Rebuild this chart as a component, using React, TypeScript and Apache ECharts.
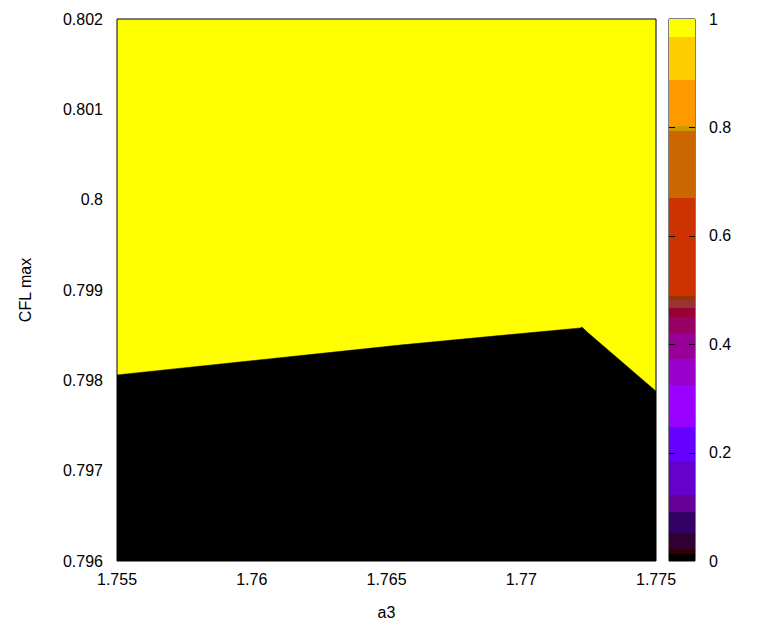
import React, { useEffect, useRef } from "react";
import * as echarts from "echarts";

// Boundary between the 0 (black) and 1 (yellow) regions
const boundaryA3 = [1.755, 1.7585, 1.762, 1.7655, 1.769, 1.7722, 1.77225, 1.7725, 1.775];
const boundaryCFL = [0.79806, 0.79817, 0.79828, 0.79839, 0.79849, 0.79858, 0.79859, 0.79852, 0.79788];

const xTicks = [1.755, 1.76, 1.765, 1.77, 1.775];
const yTicks = [0.796, 0.797, 0.798, 0.799, 0.8, 0.801, 0.802];
const cbTicks = [0.2, 0.4, 0.6, 0.8];

// Colour bar bands (palette steps)
const bandLow = [0, 0.0129, 0.0221, 0.0517, 0.0904, 0.1218, 0.1845, 0.2472, 0.3247, 0.3727, 0.4188, 0.4502, 0.4668, 0.4815, 0.4889, 0.6697, 0.7934, 0.8026, 0.8875, 0.9668];
const bandHigh = [0.0129, 0.0221, 0.0517, 0.0904, 0.1218, 0.1845, 0.2472, 0.3247, 0.3727, 0.4188, 0.4502, 0.4668, 0.4815, 0.4889, 0.6697, 0.7934, 0.8026, 0.8875, 0.9668, 1];
const bandColor = ["#000000", "#330000", "#330033", "#330066", "#660099", "#6600cc", "#6600ff", "#9900ff", "#9900cc", "#990099", "#990066", "#990033", "#993333", "#993300", "#cc3300", "#cc6600", "#cc9900", "#ff9900", "#ffcc00", "#ffff00"];

const FONT = "Liberation Sans, Arial, sans-serif";
const fmt = (v: number) => String(parseFloat(v.toFixed(3)));

export default function App() {
  const ref = useRef<HTMLDivElement>(null);
  useEffect(() => {
    if (!ref.current) return;
    const chart = echarts.init(ref.current, null, { renderer: "svg" });
    const lineData = boundaryA3.map((x, i) => [x, boundaryCFL[i]]);
    const bandData = bandLow.map((lo, i) => [0, lo, bandHigh[i], i]);
    const tickData = cbTicks.map((t) => [0, t]);
    chart.setOption({
      animation: false,
      backgroundColor: "#ffffff",
      textStyle: { fontFamily: FONT },
      grid: [
        { left: 117, top: 19, width: 539, height: 542, show: true, backgroundColor: "#ffff00", borderColor: "#000", borderWidth: 1, z: 0 },
        { left: 669, top: 19, width: 26, height: 542, show: true, backgroundColor: "transparent", borderColor: "#000", borderWidth: 1, z: 0 },
      ],
      xAxis: [
        {
          type: "value", gridIndex: 0, min: xTicks[0], max: xTicks[xTicks.length - 1], interval: 0.005,
          name: "a3", nameLocation: "middle", nameGap: 43,
          nameTextStyle: { fontSize: 16, color: "#000", fontFamily: FONT },
          axisLine: { show: false }, axisTick: { show: false }, splitLine: { show: false },
          axisLabel: { fontSize: 16, color: "#000", margin: 10, fontFamily: FONT, formatter: fmt },
        },
        { type: "value", gridIndex: 1, min: 0, max: 1, show: false },
      ],
      yAxis: [
        {
          type: "value", gridIndex: 0, min: yTicks[0], max: yTicks[yTicks.length - 1], interval: 0.001,
          name: "CFL max", nameLocation: "middle", nameGap: 84, nameRotate: 90,
          nameTextStyle: { fontSize: 16, color: "#000", fontFamily: FONT },
          axisLine: { show: false }, axisTick: { show: false }, splitLine: { show: false },
          axisLabel: { fontSize: 16, color: "#000", margin: 14, fontFamily: FONT, formatter: fmt },
        },
        {
          type: "value", gridIndex: 1, min: 0, max: 1, interval: 0.2, position: "right",
          axisLine: { show: false }, splitLine: { show: false }, axisTick: { show: false },
          axisLabel: { fontSize: 16, color: "#000", margin: 14, fontFamily: FONT, formatter: (v: number) => String(parseFloat(v.toFixed(1))) },
        },
      ],
      series: [
        {
          type: "line", xAxisIndex: 0, yAxisIndex: 0, data: lineData, symbol: "none",
          lineStyle: { color: "#000", width: 0.5 },
          areaStyle: { color: "#000", opacity: 1, origin: "start" },
          z: 2, silent: true,
        },
        {
          type: "custom", xAxisIndex: 1, yAxisIndex: 1, data: bandData, z: 1, silent: true,
          renderItem: (params: any, api: any) => {
            const lo = api.value(1);
            const hi = api.value(2);
            const idx = api.value(3);
            const p0 = api.coord([0, lo]);
            const p1 = api.coord([1, hi]);
            return {
              type: "rect",
              shape: { x: p0[0], y: p1[1], width: p1[0] - p0[0], height: p0[1] - p1[1] },
              style: { fill: bandColor[idx], stroke: null },
            };
          },
        },
        {
          type: "custom", xAxisIndex: 1, yAxisIndex: 1, data: tickData, z: 3, silent: true,
          renderItem: (params: any, api: any) => {
            const pl = api.coord([0, api.value(1)]);
            const pr = api.coord([1, api.value(1)]);
            const y = Math.round(pl[1]) + 0.5;
            return {
              type: "group",
              children: [
                { type: "line", shape: { x1: pl[0], y1: y, x2: pl[0] + 6, y2: y }, style: { stroke: "#000", lineWidth: 1 } },
                { type: "line", shape: { x1: pr[0] - 6, y1: y, x2: pr[0], y2: y }, style: { stroke: "#000", lineWidth: 1 } },
              ],
            };
          },
        },
      ],
    });
    return () => chart.dispose();
  }, []);
  return <div ref={ref} style={{ position: "fixed", left: 0, top: 0, width: 781, height: 633 }} />;
}
